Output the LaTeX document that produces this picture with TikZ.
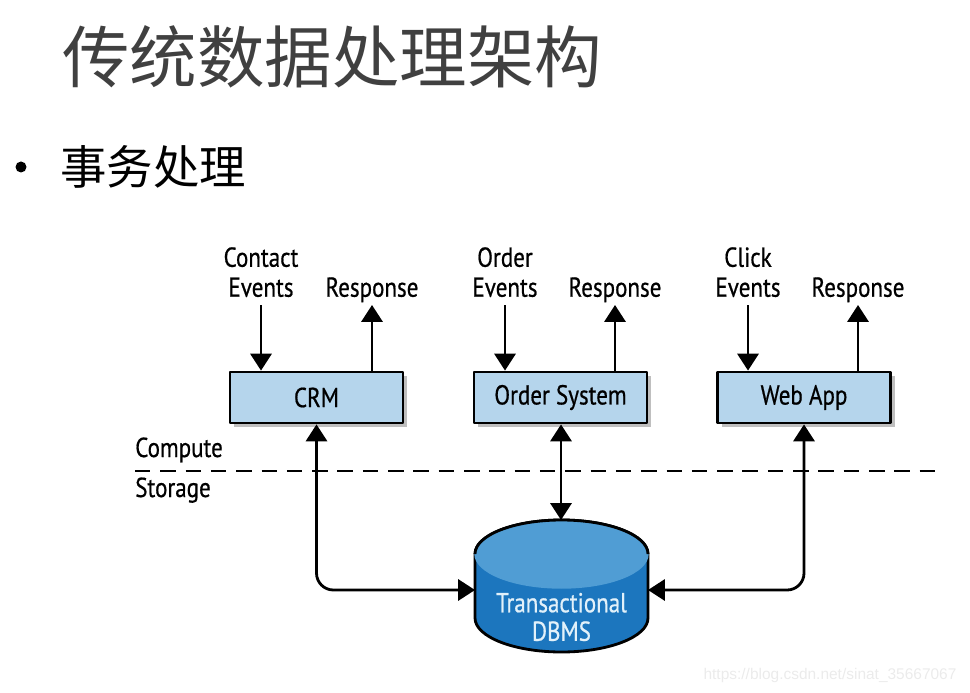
\documentclass[tikz,border=0pt]{standalone}
\usepackage{fontspec}
\newfontfamily\cjk{Noto Sans CJK SC}
\newfontfamily\diagfont{PT Sans}[FakeStretch=0.84, FakeBold=0.6]
\newfontfamily\markfont{Liberation Sans}
\usetikzlibrary{arrows.meta,positioning,calc,shadows}
\definecolor{titlegray}{RGB}{64,64,64}
\definecolor{boxblue}{RGB}{181,213,236}
\definecolor{dbbody}{RGB}{28,118,190}
\definecolor{dbtop}{RGB}{80,157,212}
\definecolor{dbtext}{RGB}{226,241,250}
\tikzset{
  sysbox/.style={draw, line width=2pt, fill=boxblue, minimum width=4.325cm, minimum height=1.275cm,
    font=\diagfont\fontsize{19.5}{21.3}\selectfont,
    drop shadow={shadow xshift=3pt, shadow yshift=-3pt, fill=black, opacity=0.25}},
  lbl/.style={font=\diagfont\fontsize{19.5}{21.3}\selectfont, align=center, inner sep=0pt, text depth=0pt},
  flow/.style={line width=2pt, -{Triangle[length=12pt,width=15pt]}},
  flowboth/.style={line width=2pt, {Triangle[length=12pt,width=15pt]}-{Triangle[length=12pt,width=15pt]}},
}
\newcommand \mydrawio[4]
{
\coordinate (#1in)  at (#2,387);
\coordinate (#1out) at (#3,387);
\node[lbl, above=0.2cm of #1in]  (#1inlbl)  {#4};
\node[lbl, above=0.2cm of #1out] (#1outlbl) {Response};
\draw[flow] (#1in) -- (#1in |- #1.north);
\draw[flow] (#1out |- #1.north) -- (#1out);
}
\begin{document}
\begin{tikzpicture}[x=0.025cm, y=0.025cm, line join=round]
\useasboundingbox (0,0) rectangle (970,692);
% heading
\node[anchor=west, inner sep=0pt, text=titlegray, font=\cjk\fontsize{48}{50}\selectfont] (title) at (62,635) {传统数据处理架构};
\fill (21,525) circle (5.5);
\node[anchor=west, inner sep=0pt, font=\cjk\fontsize{33}{36}\selectfont] (topic) at (60,525) {事务处理};
% systems
\node[sysbox] (crm)   at (316.5,294.5) {CRM};
\node[sysbox] (order) at (560.5,294.5) {Order System};
\node[sysbox] (web)   at (804,294.5)   {Web App};
\mydrawio{crm}{261}{372}{Contact\\Events}
\mydrawio{order}{505}{615}{Order\\Events}
\mydrawio{web}{748}{858}{Click\\Events}
% compute / storage
\coordinate (cutl) at (135,221);
\coordinate (cutr) at (935,221);
\draw[line width=1.8pt, dash pattern=on 11pt off 7pt] (cutl) -- (cutr);
\node[lbl, anchor=base west] (compute) at (135,235) {Compute};
\node[lbl, anchor=base west] (storage) at (135,195) {Storage};
% database
\filldraw[fill=dbbody, line width=2pt] (475,138) -- (475,74) arc[start angle=180, end angle=360, x radius=86.5, y radius=34]
  -- (648,138) arc[start angle=0, end angle=180, x radius=86.5, y radius=34] -- cycle;
\filldraw[fill=dbtop, line width=1pt, draw=dbtop] (561.5,138) ellipse[x radius=86.5, y radius=34];
\draw[line width=2pt] (475,138) arc[start angle=180, end angle=0, x radius=86.5, y radius=34];
\node[lbl, text=dbtext, text depth=] (db) at (561.5,75) {Transactional\\[-1pt]DBMS};
\coordinate (dbl) at (475,102);
\coordinate (dbr) at (648,102);
\coordinate (dbt) at (561,172);
\draw[flowboth, rounded corners=12] (crm.south) -- (crm.south |- dbl) -- (dbl);
\draw[flowboth, rounded corners=12] (web.south) -- (web.south |- dbr) -- (dbr);
\draw[flowboth] (order.south -| dbt) -- (dbt);
% watermark
\node[text=black!8, font=\markfont\fontsize{11}{12}\selectfont] (mark) at (830,17) {https://blog.csdn.net/sinat\_35667067};
\end{tikzpicture}
\end{document}
